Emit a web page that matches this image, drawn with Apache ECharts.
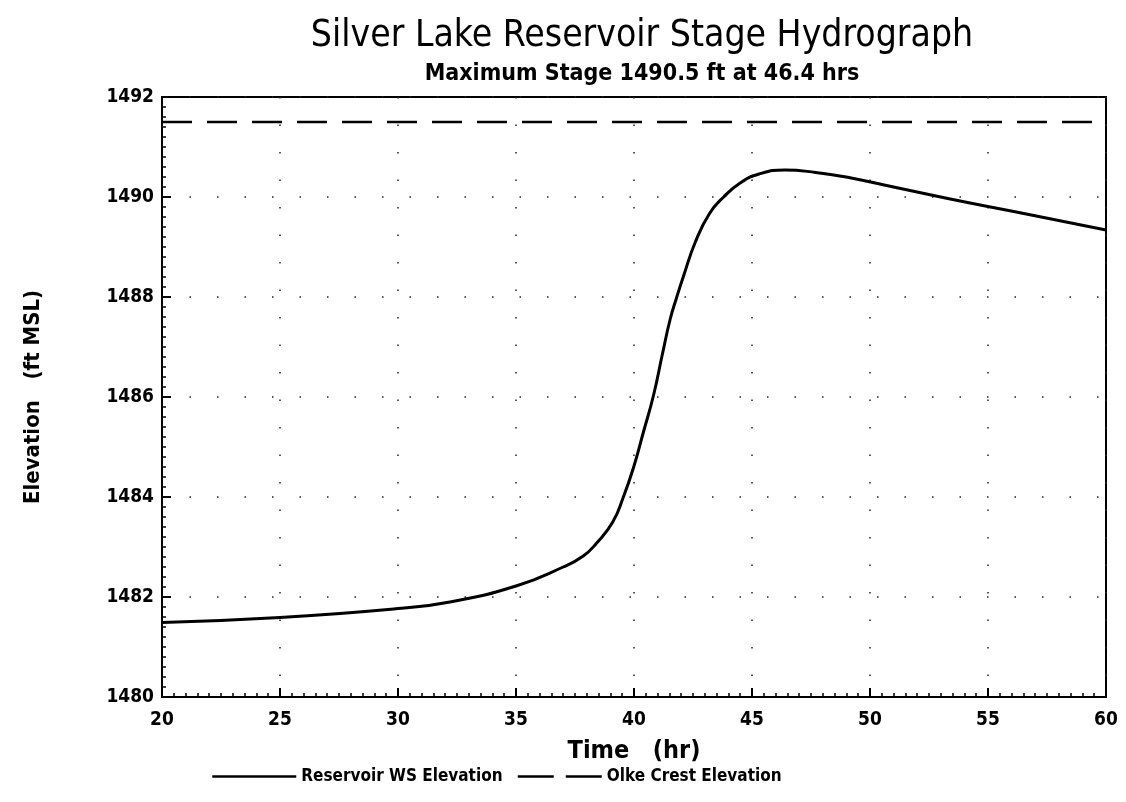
<!DOCTYPE html>
<html>
<head>
<meta charset="utf-8">
<script src="https://cdn.jsdelivr.net/npm/echarts@6/dist/echarts.min.js"></script>
<style>
  html, body { margin: 0; padding: 0; background: #fff; }
  #chart { width: 1126px; height: 802px; }
</style>
</head>
<body>
<div id="chart"></div>
<script>
// time (hr) and reservoir water surface elevation (ft MSL)
var hours = [20, 25, 30, 32.2, 35, 37, 37.85, 38.4, 39.1, 39.55, 40.0, 40.4, 40.82, 41.2, 41.53,
  41.8, 42.1, 42.6, 43.2, 43.8, 44.5, 45.3, 46.4, 47.7, 49.2, 50.6, 53.4, 56.2, 60];
var elevation = [1481.49, 1481.59, 1481.77, 1481.9, 1482.22, 1482.6, 1482.82, 1483.07, 1483.5,
  1484.0, 1484.62, 1485.3, 1486.02, 1486.85, 1487.55, 1487.98, 1488.42, 1489.1, 1489.67,
  1490.0, 1490.28, 1490.46, 1490.54, 1490.49, 1490.38, 1490.24, 1489.96, 1489.7, 1489.34];
var dikeHours = [20, 60];
var dikeCrest = [1491.5, 1491.5];

var seriesNames = ["Reservoir WS Elevation", "Olke Crest Elevation"];

var font = "'Liberation Sans Narrow', 'DejaVu Sans Condensed', Arial, sans-serif";

function pairs(xs, ys) {
  return xs.map(function (x, i) { return [x, ys[i]]; });
}

var chart = echarts.init(document.getElementById("chart"));

var option = {
  backgroundColor: "#fff",
  animation: false,
  title: [
    {
      text: "Silver Lake Reservoir Stage Hydrograph",
      left: 637, top: 13, textAlign: "center",
      textStyle: { fontFamily: font, fontSize: 37, fontWeight: "normal", color: "#000" }
    },
    {
      text: "Maximum Stage 1490.5 ft at 46.4 hrs",
      left: 637, top: 58, textAlign: "center",
      textStyle: { fontFamily: font, fontSize: 23, fontWeight: "bold", color: "#000" }
    }
  ],
  legend: {
    bottom: 12,
    left: 206,
    itemWidth: 84,
    itemHeight: 12,
    itemGap: 14,
    itemStyle: { opacity: 0 },
    textStyle: { fontFamily: font, fontSize: 17, fontWeight: "bold", color: "#000" },
    data: [
      { name: seriesNames[0], lineStyle: { type: "solid", width: 2.5, color: "#000" } },
      { name: seriesNames[1], lineStyle: { type: [36, 12], width: 2.5, color: "#000" } }
    ]
  },
  grid: {
    left: 162, right: 20, top: 97, bottom: 105,
    show: true, borderColor: "#000", borderWidth: 2, backgroundColor: "transparent"
  },
  xAxis: {
    type: "value",
    min: 20, max: 60, interval: 5,
    name: "Time   (hr)",
    nameLocation: "middle",
    nameGap: 42,
    nameTextStyle: { fontFamily: font, fontSize: 25, fontWeight: "bold", color: "#000" },
    axisLine: { show: true, lineStyle: { color: "#000", width: 2 } },
    axisTick: { show: true, inside: true, length: 9, lineStyle: { color: "#000", width: 2 } },
    minorTick: { show: true, splitNumber: 10, length: 4, lineStyle: { color: "#000", width: 1.5 } },
    axisLabel: { fontFamily: font, fontSize: 19, fontWeight: "bold", color: "#000", margin: 14 },
    splitLine: { show: true, lineStyle: { color: "#222", width: 1.5, type: [1.5, 26] } }
  },
  yAxis: {
    type: "value",
    min: 1480, max: 1492, interval: 2,
    name: "Elevation   (ft MSL)",
    nameLocation: "middle",
    nameGap: 118,
    nameTextStyle: { fontFamily: font, fontSize: 22, fontWeight: "bold", color: "#000" },
    axisLine: { show: true, lineStyle: { color: "#000", width: 2 } },
    axisTick: { show: true, inside: true, length: 9, lineStyle: { color: "#000", width: 2 } },
    minorTick: { show: true, splitNumber: 10, length: 4, lineStyle: { color: "#000", width: 1.5 } },
    axisLabel: {
      fontFamily: font, fontSize: 19, fontWeight: "bold", color: "#000", margin: 8,
      formatter: function (v) { return String(v); }
    },
    splitLine: { show: true, lineStyle: { color: "#222", width: 1.5, type: [1.5, 26] } }
  },
  series: [
    {
      name: seriesNames[0],
      type: "line",
      data: pairs(hours, elevation),
      smooth: 0.5,
      symbol: "none",
      lineStyle: { color: "#000", width: 3 },
      itemStyle: { color: "#000" }
    },
    {
      name: seriesNames[1],
      type: "line",
      data: pairs(dikeHours, dikeCrest),
      symbol: "none",
      lineStyle: { color: "#000", width: 2.5, type: [30, 15] },
      itemStyle: { color: "#000" }
    }
  ]
};

chart.setOption(option);
</script>
</body>
</html>
